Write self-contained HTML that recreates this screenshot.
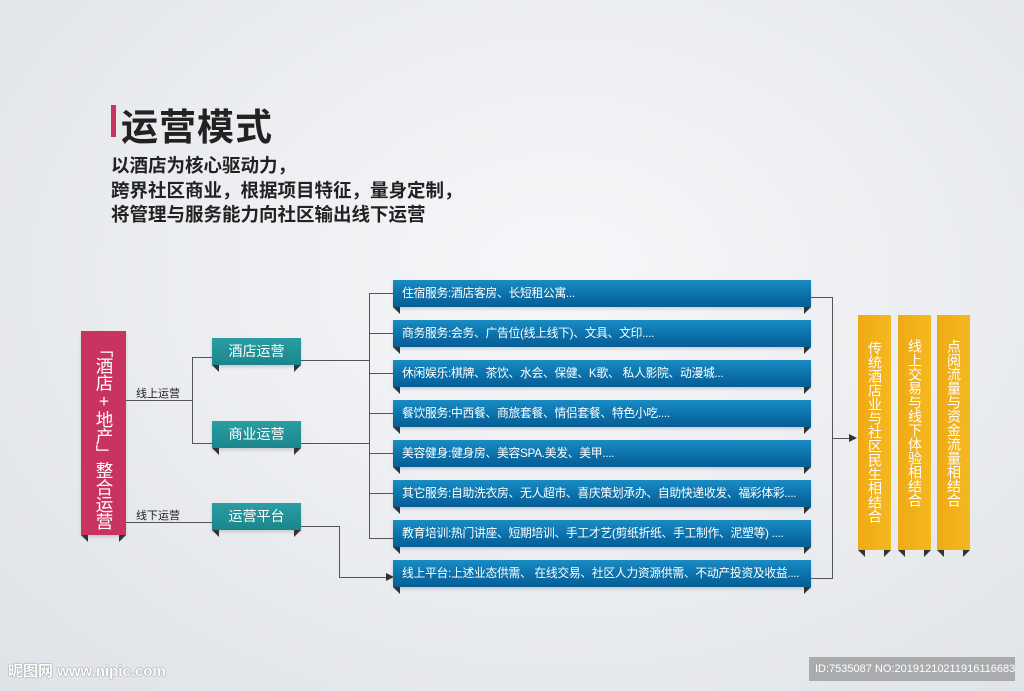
<!DOCTYPE html>
<html><head><meta charset="utf-8"><style>
*{margin:0;padding:0;box-sizing:border-box}
body{width:1024px;height:691px;overflow:hidden;position:relative;font-family:"Liberation Sans","Noto Sans CJK SC",sans-serif;
background:radial-gradient(ellipse at 55% 40%,#f6f7f9 0%,#eceef1 45%,#dfe2e6 100%)}
.a{position:absolute}
.blue{position:absolute;left:393px;width:418px;height:27px;background:linear-gradient(#1a8cc4,#0a6ea8 60%,#075e93);color:#fff;font-size:11.8px;letter-spacing:-0.3px;line-height:27px;padding-left:9px;white-space:nowrap;box-shadow:0 2px 3px rgba(0,0,0,.15)}
.blue:before,.blue:after,.f:before,.f:after{content:"";position:absolute;bottom:-7px;width:0;height:0;border-top:7px solid #333}
.blue:before,.f:before{left:0;border-left:7px solid transparent}
.blue:after,.f:after{right:0;border-right:7px solid transparent}
.teal{position:absolute;left:212px;width:89px;height:27px;background:linear-gradient(#2a9ea3,#1b858c);color:#fff;font-size:14px;line-height:27px;text-align:center;box-shadow:0 2px 3px rgba(0,0,0,.15)}
.yel{position:absolute;top:315px;width:33px;height:235px;background:linear-gradient(90deg,#eeaa14,#f5b820);color:#fff;font-size:14px;writing-mode:vertical-rl;text-orientation:upright;line-height:33px;padding-top:26px;white-space:nowrap}
.h{position:absolute;height:1px;background:#555}
.v{position:absolute;width:1px;background:#555}
.lbl{position:absolute;font-size:11px;color:#222}
.arr{position:absolute;width:0;height:0;border-top:4px solid transparent;border-bottom:4px solid transparent;border-left:8px solid #333}
</style></head><body>
<div class="a" style="left:111px;top:105px;width:5px;height:32px;background:#c8345f"></div>
<div class="a" style="left:121px;top:97px;font-size:37px;font-weight:bold;color:#222;letter-spacing:1px">运营模式</div>
<div class="a" style="left:111px;top:154px;font-size:18.5px;font-weight:bold;color:#222;line-height:24.5px">以酒店为核心驱动力，<br>跨界社区商业，根据项目特征，量身定制，<br>将管理与服务能力向社区输出线下运营</div>

<div class="a f" style="left:81px;top:331px;width:45px;height:204px;background:#c8345f;box-shadow:0 2px 3px rgba(0,0,0,.15)"></div>
<div class="a" style="left:81px;top:340px;width:45px;height:192px;color:#fff;font-size:17.5px;writing-mode:vertical-rl;text-orientation:upright;line-height:45px;white-space:nowrap;letter-spacing:-0.5px">「酒店+地产」整合运营</div>

<div class="h" style="left:126px;top:400px;width:66px"></div>
<div class="lbl" style="left:136px;top:385px">线上运营</div>
<div class="v" style="left:192px;top:357px;height:87px"></div>
<div class="h" style="left:192px;top:357px;width:20px"></div>
<div class="h" style="left:192px;top:443px;width:20px"></div>
<div class="h" style="left:126px;top:522px;width:86px"></div>
<div class="lbl" style="left:136px;top:507px">线下运营</div>

<div class="teal f" style="top:338px">酒店运营</div>
<div class="teal f" style="top:421px">商业运营</div>
<div class="teal f" style="top:503px">运营平台</div>

<div class="h" style="left:301px;top:360px;width:68px"></div>
<div class="h" style="left:301px;top:443px;width:68px"></div>
<div class="v" style="left:369px;top:293px;height:245px"></div>
<div class="h" style="left:369px;top:293px;width:24px"></div>
<div class="h" style="left:369px;top:333px;width:24px"></div>
<div class="h" style="left:369px;top:373px;width:24px"></div>
<div class="h" style="left:369px;top:413px;width:24px"></div>
<div class="h" style="left:369px;top:453px;width:24px"></div>
<div class="h" style="left:369px;top:493px;width:24px"></div>
<div class="h" style="left:369px;top:538px;width:24px"></div>
<div class="h" style="left:301px;top:526px;width:38px"></div>
<div class="v" style="left:339px;top:526px;height:52px"></div>
<div class="h" style="left:339px;top:577px;width:48px"></div>
<div class="arr" style="left:386px;top:573px"></div>

<div class="blue" style="top:280px">住宿服务:酒店客房、长短租公寓...</div>
<div class="blue" style="top:320px">商务服务:会务、广告位(线上线下)、文具、文印....</div>
<div class="blue" style="top:360px">休闲娱乐:棋牌、茶饮、水会、保健、K歌、 私人影院、动漫城...</div>
<div class="blue" style="top:400px">餐饮服务:中西餐、商旅套餐、情侣套餐、特色小吃....</div>
<div class="blue" style="top:440px">美容健身:健身房、美容SPA.美发、美甲....</div>
<div class="blue" style="top:480px">其它服务:自助洗衣房、无人超市、喜庆策划承办、自助快递收发、福彩体彩....</div>
<div class="blue" style="top:520px">教育培训:热门讲座、短期培训、手工才艺(剪纸折纸、手工制作、泥塑等) ....</div>
<div class="blue" style="top:560px">线上平台:上述业态供需、 在线交易、社区人力资源供需、不动产投资及收益....</div>

<div class="h" style="left:811px;top:297px;width:21px"></div>
<div class="h" style="left:811px;top:578px;width:21px"></div>
<div class="v" style="left:832px;top:297px;height:282px"></div>
<div class="h" style="left:832px;top:438px;width:18px"></div>
<div class="arr" style="left:849px;top:434px"></div>

<div class="yel f" style="left:858px">传统酒店业与社区民生相结合</div>
<div class="yel f" style="left:898px;padding-top:24px">线上交易与线下体验相结合</div>
<div class="yel f" style="left:937px;padding-top:24px">点阅流量与资金流量相结合</div>

<div class="a" style="left:8px;top:660px;font-size:15px;color:#fff;font-weight:bold;text-shadow:0 0 1px #777,0 0 1px #777">昵图网 www.nipic.com</div>
<div class="a" style="left:809px;top:657px;width:206px;height:24px;background:#a9abad;color:#fff;font-size:11px;line-height:24px;padding-left:6px;white-space:nowrap">ID:7535087 NO:20191210211916116683</div>
</body></html>
